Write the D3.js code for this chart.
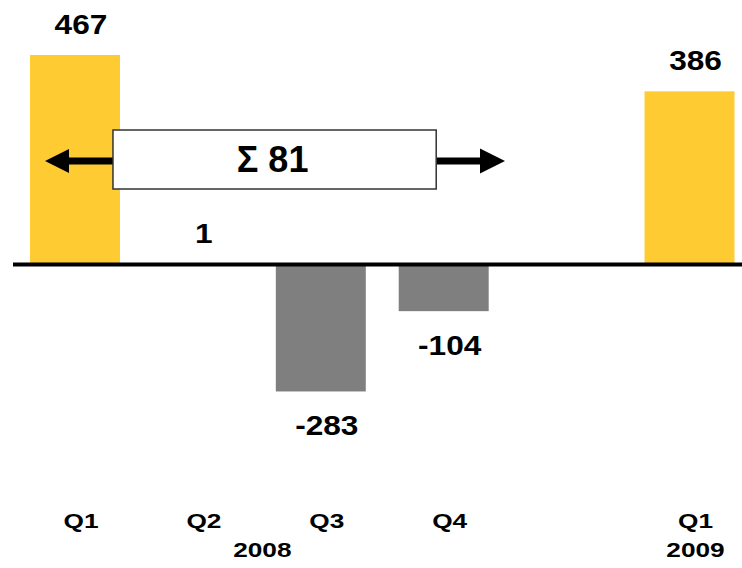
<!DOCTYPE html>
<html>
<head>
<meta charset="utf-8">
<script src="https://cdn.jsdelivr.net/npm/d3@7"></script>
<style>
  html, body { margin: 0; padding: 0; background: #fff; }
  svg { display: block; font-family: "Liberation Sans", Arial, sans-serif; font-weight: bold; }
</style>
</head>
<body>
<svg id="chart" width="742" height="568"></svg>
<script>
// Quarterly results, 2008 through Q1 2009
const periods  = ["Q1 2008", "Q2 2008", "Q3 2008", "Q4 2008", "Q1 2009"];
const quarters = ["Q1", "Q2", "Q3", "Q4", "Q1"];
const values   = [467, 1, -283, -104, 386];
const years    = ["2008", "2009"];
// the 2008 total shown in the bracket box
const total2008 = d3.sum(values.slice(0, 4));

const svg = d3.select("#chart");
const W = 742;

// one empty slot separates 2008 from 2009
const slots = [...periods.slice(0, 4), "gap", periods[4]];
const x = d3.scaleBand().domain(slots).range([30, 734.5]).paddingInner(0.268).paddingOuter(0);
const y = d3.scaleLinear().domain([0, 467]).range([264.5, 55]);
const cx = p => x(p) + x.bandwidth() / 2;

const data = periods.map((p, i) => ({ period: p, quarter: quarters[i], value: values[i] }));

// bars
svg.append("g").selectAll("rect").data(data).join("rect")
  .attr("x", d => x(d.period))
  .attr("width", x.bandwidth())
  .attr("y", d => Math.min(y(d.value), y(0)))
  .attr("height", d => Math.abs(y(d.value) - y(0)))
  .attr("fill", d => d.value >= 0 ? "#FFCB32" : "#7F7F7F");

// zero line
svg.append("line")
  .attr("x1", 13).attr("x2", W)
  .attr("y1", y(0)).attr("y2", y(0))
  .attr("stroke", "#000").attr("stroke-width", 4);

// labels are set in a slightly widened bold face
const wide = (sel, sx) => sel.attr("transform", function () {
  const tx = +this.getAttribute("data-x"), ty = +this.getAttribute("data-y");
  return `translate(${tx},${ty}) scale(${sx},1)`;
});

// value labels
const dx = 6;
svg.append("g").selectAll("text").data(data).join("text")
  .attr("data-x", d => cx(d.period) + dx)
  .attr("data-y", d => d.value >= 0 ? y(d.value) - 21 : y(d.value) + 44)
  .attr("text-anchor", "middle")
  .attr("font-size", 28)
  .attr("fill", "#000")
  .text(d => String(d.value))
  .call(wide, 1.13);

// category labels
svg.append("g").selectAll("text").data(data).join("text")
  .attr("data-x", d => cx(d.period) + dx)
  .attr("data-y", 528)
  .attr("text-anchor", "middle")
  .attr("font-size", 21)
  .text(d => d.quarter)
  .call(wide, 1.25);

// year labels
svg.append("g").selectAll("text").data(years).join("text")
  .attr("data-x", (d, i) => i === 0 ? (cx(periods[1]) + cx(periods[2])) / 2 + dx - 3 : cx(periods[4]) + dx)
  .attr("data-y", 557)
  .attr("text-anchor", "middle")
  .attr("font-size", 21)
  .text(d => d)
  .call(wide, 1.25);

// bracket box with arrows reaching out to both sides
const boxL = cx(periods[0]) + 38, boxR = cx(periods[3]) - 7.5;
const boxT = 130, boxB = 189, arrowY = 161;
const ann = svg.append("g");

ann.append("line")
  .attr("x1", boxL).attr("x2", 66).attr("y1", arrowY).attr("y2", arrowY)
  .attr("stroke", "#000").attr("stroke-width", 7);
ann.append("path")
  .attr("d", d3.line()([[45, arrowY], [69, arrowY - 12], [69, arrowY + 12]]) + "Z")
  .attr("fill", "#000");

ann.append("line")
  .attr("x1", boxR).attr("x2", 482).attr("y1", arrowY).attr("y2", arrowY)
  .attr("stroke", "#000").attr("stroke-width", 7);
ann.append("path")
  .attr("d", d3.line()([[505, arrowY], [480, arrowY - 12.5], [480, arrowY + 12.5]]) + "Z")
  .attr("fill", "#000");

ann.append("rect")
  .attr("x", boxL).attr("y", boxT)
  .attr("width", boxR - boxL).attr("height", boxB - boxT)
  .attr("fill", "#fff").attr("stroke", "#333").attr("stroke-width", 1.5);

ann.append("text")
  .attr("x", (boxL + boxR) / 2 - 2)
  .attr("y", 172)
  .attr("text-anchor", "middle")
  .attr("font-size", 36)
  .text("\u03A3 " + total2008);
</script>
</body>
</html>
